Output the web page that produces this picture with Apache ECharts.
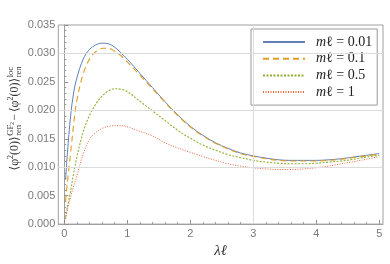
<!DOCTYPE html>
<html>
<head>
<meta charset="utf-8">
<script src="https://cdn.jsdelivr.net/npm/echarts@6/dist/echarts.min.js"></script>
<style>html,body{margin:0;padding:0;background:#fff}#c{width:390px;height:264px}</style>
</head>
<body>
<div id="c"></div>
<script>
// ---- data ----
const xs = [0.02,0.05,0.1,0.15,0.2,0.3,0.4,0.5,0.6,0.7,0.8,0.9,1.0,1.2,1.4,1.6,1.8,2.0,2.2,2.4,2.6,2.8,3.0,3.2,3.4,3.6,3.8,4.0,4.2,4.4,4.6,4.8,5.0];
const m001 = [0.0078,0.0125,0.0190,0.0232,0.0257,0.0290,0.0307,0.0315,0.0318,0.0317,0.0311,0.0301,0.0290,0.0265,0.0240,0.0215,0.0192,0.0172,0.0156,0.0143,0.0133,0.0125,0.0120,0.0116,0.0113,0.0112,0.0112,0.0112,0.0113,0.0115,0.0118,0.0121,0.0124];
const m01  = [0.0040,0.0075,0.0125,0.0177,0.0218,0.0264,0.0290,0.0303,0.0309,0.0309,0.0304,0.0296,0.0285,0.0262,0.0238,0.0214,0.0191,0.0171,0.0155,0.0142,0.0132,0.0124,0.0119,0.0115,0.0112,0.0111,0.0111,0.0111,0.0112,0.0114,0.0117,0.0120,0.0123];
const m05  = [0.0012,0.0030,0.0058,0.0090,0.0118,0.0162,0.0191,0.0211,0.0225,0.0234,0.0238,0.0237,0.0233,0.0216,0.0199,0.0182,0.0165,0.0151,0.0139,0.0130,0.0122,0.0117,0.0112,0.0109,0.0107,0.0106,0.0106,0.0107,0.0109,0.0111,0.0114,0.0118,0.0121];
const m1   = [0.0010,0.0025,0.0048,0.0067,0.0085,0.0123,0.0149,0.0161,0.0168,0.0172,0.0173,0.0173,0.0171,0.0163,0.0155,0.0143,0.0134,0.0126,0.0119,0.0112,0.0106,0.0102,0.0099,0.0097,0.0096,0.0096,0.0097,0.0099,0.0102,0.0106,0.0110,0.0114,0.0119];
const seriesNames = ['mℓ = 0.01','mℓ = 0.1','mℓ = 0.5','mℓ = 1'];
const xTickLabels = [0,1,2,3,4,5];
const yTickLabels = ['0.000','0.005','0.010','0.015','0.020','0.025','0.030','0.035'];
const gridX = [3];
const gridY = [0.01,0.02,0.03];

const minorX = [];
for (let i = 0; i <= 25; i++) minorX.push(+(i*0.2).toFixed(1));

const pair = arr => xs.map((x,i)=>[x, arr[i]]);

// ---- y-axis title built from measured pieces ----
const ctx = document.createElement('canvas').getContext('2d');
const FF = '"Liberation Serif","DejaVu Serif",serif';
function tw(t, s){ ctx.font = s + 'px ' + FF; return ctx.measureText(t).width; }
const pieces = [];
let cx = 0;
function addAt(t, s, x, dy){ pieces.push({type:'text', x:x, y:dy, style:{text:t, font: s+'px '+FF, fill:'#333', verticalAlign:'middle'}}); }
function add(t, s, dy){ addAt(t, s, cx, dy); cx += tw(t,s); }
function stack(top, topSub, bottom){
  const x0 = cx + 0.5;
  addAt(top, 8.5, x0, -4.5);
  let wt = tw(top, 8.5);
  if (topSub) { addAt(topSub, 6, x0 + wt, -2.5); wt += tw(topSub, 6); }
  addAt(bottom, 8.5, x0, 4);
  cx = x0 + Math.max(wt, tw(bottom, 8.5));
}
add('⟨φ', 12, 0); add('2', 8, -4.5); add('(0)⟩', 12, 0);
stack('GF', '2', 'ren');
cx += 1.5; add('−', 12, 0); cx += 1.5;
add('⟨φ', 12, 0); add('2', 8, -4.5); add('(0)⟩', 12, 0);
stack('loc', null, 'ren');
const L = cx;

const chart = echarts.init(document.getElementById('c'));
const axisGray = '#a0a0a0';
const labelGray = '#7a7a7a';
const common = {type:'line', showSymbol:false, symbol:'none', smooth:0.35, z:3};
chart.setOption({
  animation:false,
  grid:{left:58.3, right:7, top:25, bottom:36, show:true, borderColor:axisGray, borderWidth:1},
  legend:{
    orient:'vertical', left:251, top:29,
    data:seriesNames,
    backgroundColor:'#fff', borderColor:'#999', borderWidth:1,
    padding:[6,5,6,11], itemWidth:42, itemHeight:14, itemGap:2.7,
    itemStyle:{opacity:0},
    textStyle:{fontFamily:FF, fontSize:14, color:'#222', lineHeight:14, padding:[0,0,0,6],
      rich:{i:{fontFamily:FF, fontStyle:'italic', fontSize:14, color:'#222'}, n:{fontFamily:FF, fontSize:14, color:'#222'}}},
    formatter: n => '{i|m}{n|' + n.slice(1) + '}'
  },
  xAxis:[
    {type:'value', min:-0.095, max:5.06,
     axisLine:{show:true, lineStyle:{color:axisGray}},
     axisTick:{show:true, inside:true, length:4, customValues:xTickLabels, lineStyle:{color:'#888'}},
     axisLabel:{customValues:xTickLabels, color:labelGray, fontSize:11, fontFamily:'Liberation Sans', margin:4},
     splitLine:{show:false},
     name:'λℓ', nameLocation:'middle', nameGap:17,
     nameTextStyle:{fontFamily:FF, fontStyle:'italic', fontSize:15, color:'#333'}},
    {type:'value', min:-0.095, max:5.06, position:'bottom',
     axisLine:{show:false},
     axisTick:{show:true, inside:true, length:2, customValues:minorX, lineStyle:{color:'#999'}},
     axisLabel:{show:false}, splitLine:{show:false}}
  ],
  yAxis:[
    {type:'value', min:0, max:0.035, interval:0.005,
     axisLine:{show:true, lineStyle:{color:axisGray}},
     axisTick:{show:true, inside:true, length:4, lineStyle:{color:'#888'}},
     axisLabel:{color:labelGray, fontSize:11, fontFamily:'Liberation Sans', margin:3,
       formatter:(v)=>yTickLabels[Math.round(v/0.005)]},
     splitLine:{show:false}},
    {type:'value', min:0, max:0.035, interval:0.001, position:'left',
     axisLine:{show:false},
     axisTick:{show:true, inside:true, length:2, lineStyle:{color:'#999'}},
     axisLabel:{show:false}, splitLine:{show:false}}
  ],
  series:[
    {type:'line', name:'_grid', data:[], z:1, silent:true,
     markLine:{silent:true, symbol:'none', label:{show:false}, animation:false,
       lineStyle:{color:'#dcdcdc', type:'solid', width:1},
       data: gridX.map(v=>({xAxis:v})).concat(gridY.map(v=>({yAxis:v})))}},
    Object.assign({}, common, {name:seriesNames[0], data:pair(m001), color:'#5E81B5', lineStyle:{width:1, type:'solid'}}),
    Object.assign({}, common, {name:seriesNames[1], data:pair(m01), color:'#E19C24', lineStyle:{width:1.1, type:[6,4]}}),
    Object.assign({}, common, {name:seriesNames[2], data:pair(m05), color:'#8FB032', lineStyle:{width:1.1, type:[2,1.5]}}),
    Object.assign({}, common, {name:seriesNames[3], data:pair(m1), color:'#EB6235', lineStyle:{width:1, type:[1,1.5]}})
  ],
  graphic:[{type:'group', x:15, y:118.5 + L/2, rotation:Math.PI/2, children:pieces}]
});
</script>
</body>
</html>
